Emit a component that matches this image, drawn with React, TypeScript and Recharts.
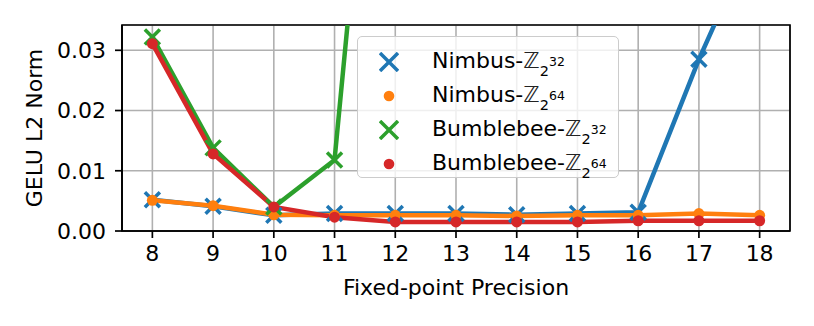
import React from 'react'
import {
  CartesianGrid,
  Legend,
  Line,
  LineChart,
  ReferenceArea,
  XAxis,
  YAxis,
} from 'recharts'

// GELU L2 norm vs fixed-point precision
const precision = [8, 9, 10, 11, 12, 13, 14, 15, 16, 17, 18]
const nimbus32 = [0.0052, 0.0041, 0.0026, 0.0029, 0.0029, 0.0029, 0.0027, 0.0029, 0.0031, 0.0285, 0.051]
const nimbus64 = [0.0051, 0.0042, 0.0027, 0.0026, 0.0026, 0.0026, 0.0025, 0.0026, 0.0026, 0.0029, 0.0026]
const bumblebee32: (number | null)[] = [0.0322, 0.0138, 0.004, 0.0118, 0.117, null, null, null, null, null, null]
const bumblebee64 = [0.0311, 0.0128, 0.004, 0.0023, 0.0015, 0.0015, 0.0015, 0.0015, 0.0017, 0.0017, 0.0017]

const xTicks = [8, 9, 10, 11, 12, 13, 14, 15, 16, 17, 18]
const yTicks = [0, 0.01, 0.02, 0.03]

const series = [
  { key: 'nimbus32', name: 'Nimbus-', exp: '32', color: '#1f77b4', marker: 'x' },
  { key: 'nimbus64', name: 'Nimbus-', exp: '64', color: '#ff7f0e', marker: 'o' },
  { key: 'bumblebee32', name: 'Bumblebee-', exp: '32', color: '#2ca02c', marker: 'x' },
  { key: 'bumblebee64', name: 'Bumblebee-', exp: '64', color: '#d62728', marker: 'o' },
]

const data = precision.map((p, i) => ({
  precision: p,
  nimbus32: nimbus32[i],
  nimbus64: nimbus64[i],
  bumblebee32: bumblebee32[i],
  bumblebee64: bumblebee64[i],
}))

const FONT = '"DejaVu Sans", sans-serif'
const FS = 22

function markerDot(color: string, marker: string) {
  return (p: any) => {
    const k = `dot-${p.index}`
    if (p.cx == null || p.cy == null || p.value == null) return <g key={k} />
    if (marker === 'x') {
      const s = 7.5
      return (
        <path
          key={k}
          d={`M${p.cx - s},${p.cy - s}L${p.cx + s},${p.cy + s}M${p.cx - s},${p.cy + s}L${p.cx + s},${p.cy - s}`}
          stroke={color}
          strokeWidth={3.5}
          fill="none"
        />
      )
    }
    return <circle key={k} cx={p.cx} cy={p.cy} r={5.5} fill={color} stroke="none" />
  }
}

function LegendMarker({ color, marker }: { color: string; marker: string }) {
  return (
    <svg width={20} height={20} style={{ display: 'block' }}>
      {marker === 'x' ? (
        <path d="M1,1L19,19M1,19L19,1" stroke={color} strokeWidth={3.5} fill="none" />
      ) : (
        <circle cx={10} cy={10} r={5.3} fill={color} />
      )}
    </svg>
  )
}

function LegendBox() {
  return (
    <div
      style={{
        width: 262,
        height: 142,
        boxSizing: 'border-box',
        border: '1px solid #cccccc',
        borderRadius: 5,
        background: 'rgba(255,255,255,0.8)',
        paddingTop: 8,
        fontFamily: FONT,
        fontSize: FS,
        color: '#000',
      }}
    >
      {series.map((s) => (
        <div key={s.key} style={{ display: 'flex', alignItems: 'center', height: 34 }}>
          <div style={{ width: 22, marginLeft: 21 }}>
            <LegendMarker color={s.color} marker={s.marker} />
          </div>
          <div style={{ marginLeft: 31, whiteSpace: 'nowrap', lineHeight: '22px' }}>
            {s.name}
            <span style={{ color: '#222' }}>ℤ</span>
            <span style={{ fontSize: 14.5, position: 'relative', top: 8 }}>2</span>
            <span style={{ fontSize: 12.5, position: 'relative', top: -2 }}>{s.exp}</span>
          </div>
        </div>
      ))}
    </div>
  )
}

export default function App() {
  const tick = { fill: '#000', fontSize: FS, fontFamily: FONT }
  return (
    <div style={{ position: 'absolute', left: 0, top: 0, width: 814, height: 326, background: '#fff', fontFamily: FONT }}>
      <LineChart width={814} height={326} data={data} margin={{ top: 25, right: 24, bottom: 0, left: 0 }}>
        <CartesianGrid stroke="#b0b0b0" strokeWidth={1.6} />
        <XAxis
          dataKey="precision"
          type="number"
          domain={[7.5, 18.5]}
          ticks={xTicks}
          allowDataOverflow
          height={95}
          tick={tick}
          tickSize={7}
          tickMargin={7}
          axisLine={{ stroke: '#000', strokeWidth: 1.7 }}
          tickLine={{ stroke: '#000', strokeWidth: 1.7 }}
          label={{ value: 'Fixed-point Precision', position: 'insideBottom', offset: 31, fill: '#000', fontSize: FS, fontFamily: FONT }}
        />
        <YAxis
          type="number"
          domain={[0, 0.0342]}
          ticks={yTicks}
          allowDataOverflow
          width={122}
          tick={tick}
          tickSize={7}
          tickMargin={9}
          tickFormatter={(v: number) => v.toFixed(2)}
          axisLine={{ stroke: '#000', strokeWidth: 1.7 }}
          tickLine={{ stroke: '#000', strokeWidth: 1.7 }}
          label={{
            value: 'GELU L2 Norm',
            angle: -90,
            position: 'insideLeft',
            offset: 34,
            fill: '#000',
            fontSize: FS,
            fontFamily: FONT,
            style: { textAnchor: 'middle' },
          }}
        />
        {series.map((s) => (
          <Line
            key={s.key}
            dataKey={s.key}
            stroke={s.color}
            strokeWidth={4.5}
            dot={markerDot(s.color, s.marker)}
            activeDot={false}
            isAnimationActive={false}
          />
        ))}
        <ReferenceArea
          x1={7.5}
          x2={18.5}
          y1={0}
          y2={0.0342}
          fill="none"
          stroke="#000"
          strokeWidth={1.7}
          ifOverflow="visible"
        />
        <Legend
          layout="vertical"
          align="center"
          verticalAlign="middle"
          content={() => <LegendBox />}
          wrapperStyle={{ position: 'absolute', left: 357, top: 36, width: 262, height: 142 }}
        />
      </LineChart>
    </div>
  )
}
